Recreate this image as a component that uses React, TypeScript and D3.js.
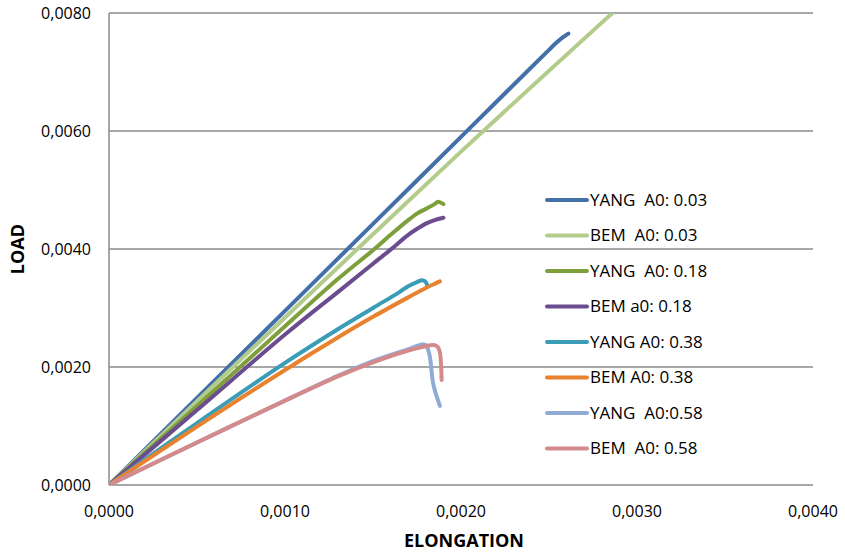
import React from "react";
import * as d3 from "d3";

// series names as in the legend
const names = [
  "YANG  A0: 0.03",
  "BEM  A0: 0.03",
  "YANG  A0: 0.18",
  "BEM a0: 0.18",
  "YANG A0: 0.38",
  "BEM A0: 0.38",
  "YANG  A0:0.58",
  "BEM  A0: 0.58",
];
const colors = ["#4470aa", "#b3cc8c", "#7e9f3c", "#6b4c8e", "#3a9cb6", "#e8822f", "#8eaad5", "#d48a8b"];

// elongation / load pairs per series
const yang003X = [0, 0.0005, 0.001, 0.0015, 0.002, 0.0025, 0.00254, 0.00258, 0.00261];
const yang003Y = [0, 0.001475, 0.00295, 0.004425, 0.0059, 0.007375, 0.00749, 0.00759, 0.00765];
const bem003X = [0, 0.0005, 0.001, 0.0015, 0.002, 0.0025, 0.00286];
const bem003Y = [0, 0.00142, 0.00284, 0.00425, 0.00565, 0.00702, 0.008];
const yang018X = [0, 0.0005, 0.001, 0.0013, 0.0015, 0.0016, 0.0017, 0.00175, 0.0018, 0.00185, 0.00187, 0.0019];
const yang018Y = [0, 0.00134, 0.00269, 0.00349, 0.00398, 0.00424, 0.00449, 0.0046, 0.00468, 0.00476, 0.0048, 0.00476];
const bem018X = [0, 0.0005, 0.001, 0.0013, 0.0015, 0.0016, 0.0017, 0.00175, 0.0018, 0.00185, 0.0019];
const bem018Y = [0, 0.00127, 0.00255, 0.00327, 0.00375, 0.00399, 0.00424, 0.00434, 0.00443, 0.00449, 0.00453];
const yang038X = [0, 0.0005, 0.001, 0.0013, 0.0015, 0.00165, 0.0017, 0.00175, 0.00178, 0.0018, 0.00181];
const yang038Y = [0, 0.00105, 0.00207, 0.00264, 0.003, 0.00327, 0.00337, 0.00344, 0.00347, 0.00344, 0.00336];
const bem038X = [0, 0.0005, 0.001, 0.0013, 0.0015, 0.0017, 0.0018, 0.00185, 0.00188];
const bem038Y = [0, 0.00099, 0.00195, 0.0025, 0.00285, 0.00318, 0.00334, 0.00341, 0.00345];
const yang058X = [0, 0.0005, 0.001, 0.0013, 0.0015, 0.0017, 0.00178, 0.0018, 0.00182, 0.00184, 0.00185, 0.00188];
const yang058Y = [0, 0.00072, 0.00143, 0.00185, 0.0021, 0.0023, 0.00238, 0.00237, 0.00222, 0.00175, 0.00162, 0.00134];
const bem058X = [0, 0.0005, 0.001, 0.0013, 0.0015, 0.0017, 0.00178, 0.00185, 0.00187, 0.00188, 0.00189];
const bem058Y = [0, 0.00072, 0.00143, 0.00184, 0.00208, 0.00228, 0.00234, 0.00237, 0.00233, 0.00225, 0.00178];

const seriesX = [yang003X, bem003X, yang018X, bem018X, yang038X, bem038X, yang058X, bem058X];
const seriesY = [yang003Y, bem003Y, yang018Y, bem018Y, yang038Y, bem038Y, yang058Y, bem058Y];

const xTicks = [0, 0.001, 0.002, 0.003, 0.004];
const yTicks = [0, 0.002, 0.004, 0.006, 0.008];

const font = "'Open Sans', 'Noto Sans', sans-serif";

export default function App() {
  const width = 845;
  const height = 557;
  const margin = { top: 13, left: 109, right: 32, bottom: 72 };

  const x = d3.scaleLinear().domain([0, 0.004]).range([margin.left, width - margin.right]);
  const y = d3.scaleLinear().domain([0, 0.008]).range([height - margin.bottom, margin.top]);
  const fmt = (v: number) => d3.format(".4f")(v).replace(".", ",");

  const line = d3
    .line<[number, number]>()
    .x((d) => x(d[0]))
    .y((d) => y(d[1]))
    .curve(d3.curveCatmullRom.alpha(0.5));

  const legendX = 547;
  const legendY = 200;
  const legendStep = 35.5;

  return (
    <div style={{ position: "absolute", left: 0, top: 0 }}>
      <svg width={width} height={height} style={{ display: "block", background: "#fff" }}>
        <defs>
          <clipPath id="plot">
            <rect x={x(0)} y={y(0.008)} width={x(0.004) - x(0)} height={y(0) - y(0.008)} />
          </clipPath>
        </defs>

        {yTicks.map((t) => (
          <line key={"g" + t} x1={x(0)} x2={x(0.004)} y1={y(t)} y2={y(t)} stroke="#8a8a8a" strokeWidth={1.5} />
        ))}
        <line x1={x(0)} x2={x(0)} y1={y(0)} y2={y(0.008)} stroke="#8a8a8a" strokeWidth={1.5} />

        {yTicks.map((t) => (
          <text key={"y" + t} x={91} y={y(t)} dy="0.35em" textAnchor="end" fontFamily={font} fontSize={16} fill="#000">
            {fmt(t)}
          </text>
        ))}
        {xTicks.map((t) => (
          <text key={"x" + t} x={x(t)} y={511} dy="0.35em" textAnchor="middle" fontFamily={font} fontSize={16} fill="#000">
            {fmt(t)}
          </text>
        ))}

        <text
          transform={`translate(18, ${y(0.004)}) rotate(-90)`}
          textAnchor="middle"
          fontFamily={font}
          fontSize={18}
          fontWeight="bold"
          dy="0.35em"
        >
          LOAD
        </text>
        <text x={464} y={541} textAnchor="middle" fontFamily={font} fontSize={18} fontWeight="bold" dy="0.35em">
          ELONGATION
        </text>

        <g clipPath="url(#plot)">
          {seriesX.map((xs, i) => (
            <path
              key={names[i]}
              d={line(xs.map((v, j) => [v, seriesY[i][j]] as [number, number])) || ""}
              fill="none"
              stroke={colors[i]}
              strokeWidth={4}
              strokeLinejoin="round"
              strokeLinecap="round"
            />
          ))}
        </g>

        {names.map((n, i) => (
          <g key={"l" + n} transform={`translate(${legendX}, ${legendY + i * legendStep})`}>
            <line x1={0} x2={40} y1={0} y2={0} stroke={colors[i]} strokeWidth={4} strokeLinecap="round" />
            <text x={43} y={0} dy="0.35em" fontFamily={font} fontSize={17} style={{ whiteSpace: "pre" }}>
              {n}
            </text>
          </g>
        ))}
      </svg>
    </div>
  );
}
